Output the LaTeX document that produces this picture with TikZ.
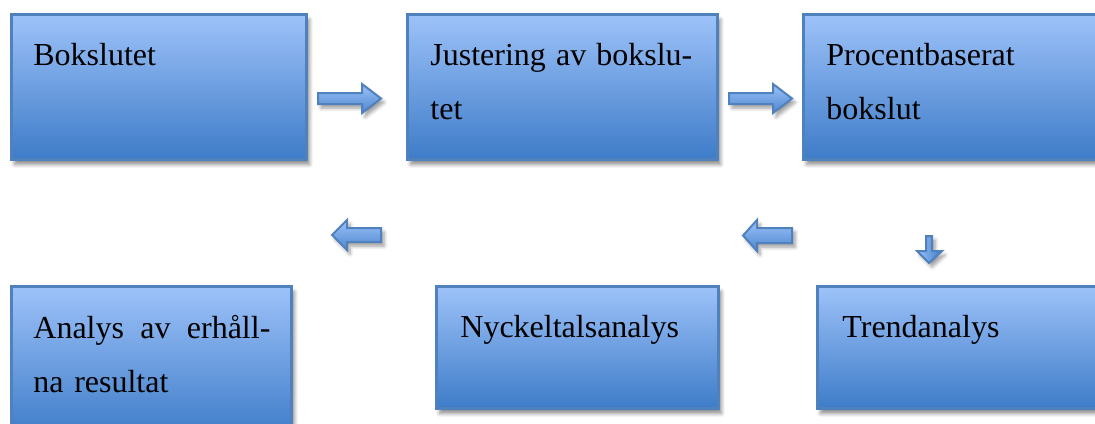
\documentclass[tikz,border=0pt]{standalone}
\usepackage{fontspec}
\setmainfont{Liberation Serif}
\usetikzlibrary{shadows.blur}
\definecolor{boxtop}{RGB}{157,194,249}
\definecolor{boxbot}{RGB}{62,124,200}
\definecolor{boxline}{RGB}{79,129,189}

\begin{document}
\begin{tikzpicture}[x=0.5pt, y=-0.5pt, every node/.style={font=\fontsize{16}{27}\selectfont},
	stage/.style={draw=boxline, line width=1.5pt, top color=boxtop, bottom color=boxbot, anchor=north west, inner sep=0pt,
		blur shadow={shadow xshift=1.5pt, shadow yshift=-2.5pt, shadow blur steps=6, shadow opacity=45}},
	txt/.style={anchor=north west, inner sep=0pt, align=left},
	barrow/.style={draw=boxline, line width=1pt, top color=boxtop, bottom color=boxbot!85!boxtop,
		blur shadow={shadow xshift=1.5pt, shadow yshift=-2pt, shadow blur steps=5, shadow opacity=40}}]
	\useasboundingbox (0,0) rectangle (1095,423);
	% top row
	\node[stage, minimum width=147.5pt, minimum height=72.5pt] (bokslut) at (10,13) {};
	\node[stage, minimum width=155pt, minimum height=72.5pt] (justering) at (406,13) {};
	\node[stage, minimum width=150pt, minimum height=72.5pt] (procent) at (802,13) {};
	% bottom row
	\node[stage, minimum width=140pt, minimum height=75pt] (resultat) at (10,285) {};
	\node[stage, minimum width=141pt, minimum height=61pt] (nyckel) at (435,285) {};
	\node[stage, minimum width=145pt, minimum height=61pt] (trend) at (816,285) {};
	% texts
	\node[txt] (t1) at ([shift={(23,30)}]bokslut.north west) {Bokslutet};
	\node[txt, text width=131pt] (t2) at ([shift={(24,30)}]justering.north west) {Justering\hfill av\hfill bokslu-\\tet};
	\node[txt] (t3) at ([shift={(24,30)}]procent.north west) {Procentbaserat\\bokslut};
	\node[txt, text width=118.5pt] (t4) at ([shift={(23,30)}]resultat.north west) {Analys\hfill av\hfill erhåll-\\na resultat};
	\node[txt] (t5) at ([shift={(25,30)}]nyckel.north west) {Nyckeltalsanalys};
	\node[txt] (t6) at ([shift={(26,30)}]trend.north west) {Trendanalys};
	% block arrows
	\draw[barrow] (318,93) -- (362,93) -- (362,84) -- (381,98.5) -- (362,113) -- (362,104) -- (318,104) -- cycle;
	\draw[barrow] (729,93) -- (773,93) -- (773,84) -- (792,98.5) -- (773,113) -- (773,104) -- (729,104) -- cycle;
	\draw[barrow] (381,228) -- (347,228) -- (347,220) -- (332,235) -- (347,250) -- (347,242) -- (381,242) -- cycle;
	\draw[barrow] (792,228) -- (757,228) -- (757,220) -- (743,235.5) -- (757,251) -- (757,243) -- (792,243) -- cycle;
	\draw[barrow, left color=boxtop, right color=boxbot] (926,236) -- (932,236) -- (932,251) -- (942,251) -- (929,263) -- (917,251) -- (926,251) -- cycle;
\end{tikzpicture}
\end{document}
